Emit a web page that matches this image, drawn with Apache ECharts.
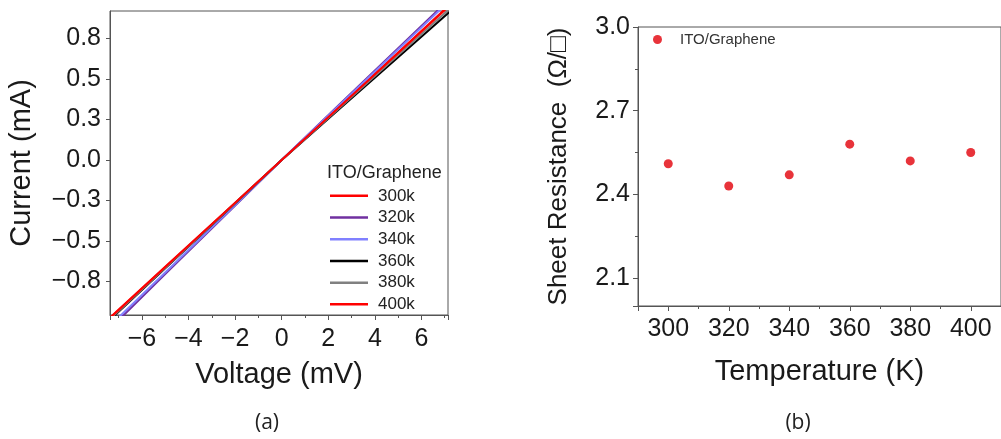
<!DOCTYPE html>
<html>
<head>
<meta charset="utf-8">
<script src="https://cdn.jsdelivr.net/npm/echarts@6/dist/echarts.min.js"></script>
<style>
  html, body { margin: 0; padding: 0; background: #fff; }
  #chart { width: 1001px; height: 439px; }
</style>
</head>
<body>
<div id="chart"></div>
<script>
// (a) I-V curves
const voltage = [-7.5, -5, -2.5, 0, 2.5, 5, 7.5];
const tempNames = ['300k', '320k', '340k', '360k', '380k', '400k'];
const tempColors = ['#ff0000', '#7030a0', '#8080ff', '#000000', '#808080', '#ff0000'];
const current300 = [-1.055, -0.703, -0.352, 0, 0.353, 0.707, 1.062];
const current320 = [-1.13, -0.75, -0.375, 0, 0.368, 0.735, 1.102];
const current340 = [-1.11, -0.74, -0.37, 0, 0.364, 0.727, 1.09];
const current360 = [-1.07, -0.713, -0.357, 0, 0.338, 0.676, 1.014];
const current380 = [-1.065, -0.71, -0.355, 0, 0.345, 0.69, 1.035];
const current400 = [-1.058, -0.705, -0.353, 0, 0.352, 0.704, 1.056];
const currents = [current300, current320, current340, current360, current380, current400];
const currentTicks = [-0.8, -0.5333, -0.2667, 0, 0.2667, 0.5333, 0.8];

// (b) sheet resistance vs temperature
const temperature = [300, 320, 340, 360, 380, 400];
const sheetRes = [2.51, 2.43, 2.47, 2.58, 2.52, 2.55];

const chart = echarts.init(document.getElementById('chart'));

const minus = (s) => String(s).replace('-', '\u2212');
const axisColor = '#555';
const labelColor = '#1a1a1a';

const lineSeries = tempNames.map((name, i) => ({
    name: name,
    type: 'line',
    xAxisIndex: 0,
    yAxisIndex: 0,
    symbol: 'none',
    lineStyle: { color: tempColors[i], width: 2 },
    itemStyle: { color: tempColors[i] },
    data: voltage.map((v, j) => [v, currents[i][j]])
}));

const option = {
    animation: false,
    textStyle: { fontFamily: 'Liberation Sans, Arial, sans-serif' },
    grid: [
        { left: 110, top: 11, width: 338, height: 304, show: true, borderColor: axisColor, borderWidth: 1 },
        { left: 638, top: 27, width: 373, height: 279, show: true, borderColor: axisColor, borderWidth: 1 }
    ],
    title: [
        {
            text: 'ITO/Graphene',
            left: 327,
            top: 164,
            padding: 0,
            textStyle: { fontSize: 18, fontWeight: 'normal', color: '#222' }
        }
    ],
    legend: [
        {
            data: tempNames,
            orient: 'vertical',
            left: 330,
            top: 185,
            padding: 0,
            itemGap: 0,
            itemWidth: 38,
            itemHeight: 2.5,
            icon: 'rect',
            textStyle: { fontSize: 17, color: '#222', lineHeight: 21.7, padding: [0, 0, 0, 5] }
        },
        {
            data: ['ITO/Graphene'],
            left: 653,
            top: 32,
            padding: 0,
            icon: 'circle',
            itemWidth: 9,
            itemHeight: 9,
            textStyle: { fontSize: 15, color: '#333', padding: [0, 0, 0, 13] }
        }
    ],
    xAxis: [
        {
            type: 'value',
            gridIndex: 0,
            min: -7.37,
            max: 7.14,
            splitNumber: 7,
            axisLine: { onZero: false, lineStyle: { color: axisColor } },
            axisTick: { length: 5, lineStyle: { color: axisColor } },
            minorTick: { show: true, splitNumber: 2, length: 3, lineStyle: { color: axisColor } },
            splitLine: { show: false },
            axisLabel: {
                fontSize: 25, color: labelColor, margin: 12,
                showMinLabel: false, showMaxLabel: false,
                formatter: (v) => minus(v)
            },
            name: 'Voltage (mV)',
            nameLocation: 'middle',
            nameGap: 45,
            nameTextStyle: { fontSize: 29, color: labelColor }
        },
        {
            type: 'value',
            gridIndex: 1,
            min: 290,
            max: 410,
            splitNumber: 6,
            axisLine: { lineStyle: { color: axisColor } },
            axisTick: { length: 5, lineStyle: { color: axisColor } },
            minorTick: { show: true, splitNumber: 2, length: 3, lineStyle: { color: axisColor } },
            splitLine: { show: false },
            axisLabel: {
                fontSize: 25, color: labelColor, margin: 11,
                showMinLabel: false, showMaxLabel: false
            },
            name: 'Temperature (K)',
            nameLocation: 'middle',
            nameGap: 51,
            nameTextStyle: { fontSize: 29, color: labelColor }
        }
    ],
    yAxis: [
        {
            type: 'value',
            gridIndex: 0,
            min: -1.02,
            max: 0.98,
            axisLine: { onZero: false, lineStyle: { color: axisColor } },
            axisTick: { length: 4, customValues: currentTicks, lineStyle: { color: axisColor } },
            splitLine: { show: false },
            axisLabel: {
                fontSize: 25, color: labelColor, margin: 9,
                customValues: currentTicks,
                formatter: (v) => minus(Number(v).toFixed(1))
            },
            name: 'Current (mA)',
            nameLocation: 'middle',
            nameGap: 74,
            nameTextStyle: { fontSize: 29, color: labelColor }
        },
        {
            type: 'value',
            gridIndex: 1,
            min: 2.0,
            max: 3.0,
            splitNumber: 3,
            axisLine: { lineStyle: { color: axisColor } },
            axisTick: { length: 5, lineStyle: { color: axisColor } },
            minorTick: { show: true, splitNumber: 2, length: 3, lineStyle: { color: axisColor } },
            splitLine: { show: false },
            axisLabel: {
                fontSize: 25, color: labelColor, margin: 8,
                showMinLabel: false,
                formatter: (v) => Number(v).toFixed(1)
            },
            name: 'Sheet Resistance  (\u03A9/\u25A1)',
            nameLocation: 'middle',
            nameGap: 66,
            nameTextStyle: { fontSize: 26, color: labelColor }
        }
    ],
    graphic: [
        { type: 'text', x: 267, y: 423, style: { text: '(a)', font: '21px "Open Sans", sans-serif', fill: '#222', textAlign: 'center', textVerticalAlign: 'middle' } },
        { type: 'text', x: 798, y: 423, style: { text: '(b)', font: '21px "Open Sans", sans-serif', fill: '#222', textAlign: 'center', textVerticalAlign: 'middle' } }
    ],
    series: lineSeries.concat([
        {
            name: 'ITO/Graphene',
            type: 'scatter',
            xAxisIndex: 1,
            yAxisIndex: 1,
            symbolSize: 9,
            itemStyle: { color: '#e8333a', opacity: 1 },
            data: temperature.map((t, i) => [t, sheetRes[i]])
        }
    ])
};

chart.setOption(option);
</script>
</body>
</html>
